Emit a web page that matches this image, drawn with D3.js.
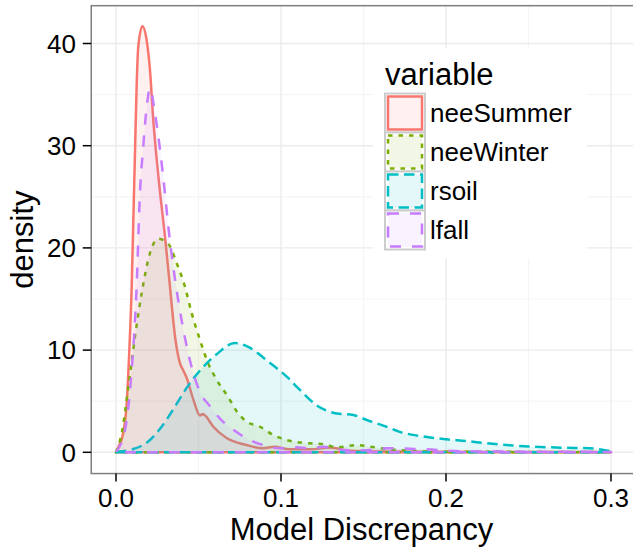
<!DOCTYPE html>
<html>
<head>
<meta charset="utf-8">
<script src="https://cdn.jsdelivr.net/npm/d3@7"></script>
<style>
  body { margin: 0; background: #fff; }
  svg { display: block; font-family: "Liberation Sans", Arial, sans-serif; }
</style>
</head>
<body>
<svg width="633" height="550"></svg>
<script>
// density curves
const variables = ["neeSummer", "neeWinter", "rsoil", "lfall"];

const neeSummerX = [0, 0.0014, 0.0044, 0.0065, 0.008, 0.0095, 0.0105, 0.0115, 0.0125, 0.0135, 0.016, 0.0186, 0.0206, 0.0226, 0.0247, 0.0267, 0.0297, 0.0327, 0.0358, 0.0388, 0.0408, 0.0428, 0.0468, 0.0509, 0.0525, 0.054, 0.059, 0.067, 0.079, 0.089, 0.096, 0.105, 0.118, 0.13, 0.142, 0.16, 0.2, 0.25, 0.3];
const neeSummerY = [0, 0.5, 1.9, 4.8, 9.7, 16.2, 22.7, 29.3, 35.8, 39.7, 41.7, 40.3, 37.4, 32.5, 28.6, 25.4, 21.1, 16.2, 11.3, 8.7, 8.0, 7.3, 5.2, 3.6, 3.75, 3.6, 2.5, 1.4, 0.72, 0.4, 0.55, 0.3, 0.3, 0.47, 0.15, 0.08, 0.05, 0.03, 0.02];

const neeWinterX = [0, 0.0035, 0.0075, 0.0115, 0.0156, 0.0206, 0.0256, 0.0317, 0.0368, 0.0418, 0.0459, 0.0509, 0.0559, 0.061, 0.068, 0.0732, 0.0792, 0.0873, 0.0953, 0.1035, 0.1176, 0.1256, 0.1338, 0.1459, 0.154, 0.166, 0.184, 0.2, 0.25, 0.3];
const neeWinterY = [0, 1.9, 6.4, 11.3, 15.6, 19.5, 20.9, 20.4, 18.5, 16.2, 13.6, 11.0, 8.7, 7.1, 5.4, 4.0, 3.0, 2.5, 1.7, 1.2, 0.88, 0.81, 0.49, 0.71, 0.55, 0.29, 0.12, 0.06, 0.04, 0.02];

const rsoilX = [0, 0.0105, 0.0206, 0.0267, 0.0347, 0.0428, 0.0509, 0.061, 0.072, 0.081, 0.0913, 0.1035, 0.1115, 0.1216, 0.1338, 0.1438, 0.152, 0.164, 0.172, 0.184, 0.2004, 0.2125, 0.2247, 0.2368, 0.2529, 0.2711, 0.2873, 0.2994];
const rsoilY = [0.05, 0.32, 1.2, 2.3, 4.2, 6.3, 8.0, 9.6, 10.7, 10.25, 9.0, 7.4, 6.1, 4.6, 3.8, 3.65, 3.16, 2.5, 2.0, 1.6, 1.27, 1.1, 0.88, 0.71, 0.55, 0.45, 0.39, 0.13];

const lfallX = [0, 0.0055, 0.0095, 0.0125, 0.0145, 0.0165, 0.0186, 0.0206, 0.0236, 0.0267, 0.0297, 0.0317, 0.0358, 0.0398, 0.0448, 0.0509, 0.057, 0.063, 0.0711, 0.0812, 0.0893, 0.0994, 0.1095, 0.1176, 0.1256, 0.1376, 0.15, 0.164, 0.188, 0.21, 0.25, 0.3];
const lfallY = [0.05, 2.2, 8.05, 16.2, 25.3, 29.9, 33.8, 35.6, 33.2, 29.6, 25.3, 22.1, 16.9, 12.9, 9.0, 5.9, 4.5, 3.3, 2.2, 1.2, 0.71, 0.39, 0.49, 0.39, 0.55, 0.22, 0.2, 0.39, 0.29, 0.1, 0.06, 0.04];

const xTicks = [0, 0.1, 0.2, 0.3];
const yTicks = [0, 10, 20, 30, 40];
const xMinor = [0.05, 0.15, 0.25];
const yMinor = [5, 15, 25, 35];

const colors = ["#F8766D", "#7CAE00", "#00BFC4", "#C77CFF"];
const dashes = [null, "4.5,6", "10.5,5.5", "11,11"];

const series = [
    { name: "neeSummer", xs: neeSummerX, ys: neeSummerY },
    { name: "neeWinter", xs: neeWinterX, ys: neeWinterY },
    { name: "rsoil", xs: rsoilX, ys: rsoilY },
    { name: "lfall", xs: lfallX, ys: lfallY },
];

const x = d3.scaleLinear().domain([0, 0.3]).range([116, 611]);
const y = d3.scaleLinear().domain([0, 40]).range([452.3, 43.5]);

const pLeft = x(-0.015), pRight = x(0.315);
const pTop = y(43.7), pBottom = y(-2.08);

const svg = d3.select("svg");

// panel
const grid = svg.append("g");
grid.selectAll(".vminor").data(xMinor).join("line")
    .attr("x1", d => x(d)).attr("x2", d => x(d))
    .attr("y1", pTop).attr("y2", pBottom)
    .attr("stroke", "#f5f5f5").attr("stroke-width", 1.2);
grid.selectAll(".hminor").data(yMinor).join("line")
    .attr("x1", pLeft).attr("x2", pRight)
    .attr("y1", d => y(d)).attr("y2", d => y(d))
    .attr("stroke", "#f5f5f5").attr("stroke-width", 1.2);
grid.selectAll(".vmajor").data(xTicks).join("line")
    .attr("x1", d => x(d)).attr("x2", d => x(d))
    .attr("y1", pTop).attr("y2", pBottom)
    .attr("stroke", "#ebebeb").attr("stroke-width", 1.4);
grid.selectAll(".hmajor").data(yTicks).join("line")
    .attr("x1", pLeft).attr("x2", pRight)
    .attr("y1", d => y(d)).attr("y2", d => y(d))
    .attr("stroke", "#ebebeb").attr("stroke-width", 1.4);

// density polygons, drawn in order with outline closed along the baseline
const area = d3.area()
    .x(d => x(d[0]))
    .y0(y(0))
    .y1(d => y(d[1]))
    .curve(d3.curveMonotoneX);

series.forEach((s, i) => {
    const pts = s.xs.map((v, j) => [v, s.ys[j]]);
    svg.append("path")
        .attr("d", area(pts))
        .attr("fill", colors[i])
        .attr("fill-opacity", 0.1)
        .attr("stroke", colors[i])
        .attr("stroke-width", 2.5)
        .attr("stroke-dasharray", dashes[i])
        .attr("stroke-linejoin", "round");
});

// border
svg.append("rect")
    .attr("x", pLeft).attr("y", pTop)
    .attr("width", pRight - pLeft).attr("height", pBottom - pTop)
    .attr("fill", "none").attr("stroke", "#7f7f7f").attr("stroke-width", 1.5);

// axes
svg.append("g").selectAll("line").data(yTicks).join("line")
    .attr("x1", pLeft - 8.5).attr("x2", pLeft)
    .attr("y1", d => y(d)).attr("y2", d => y(d))
    .attr("stroke", "#000").attr("stroke-width", 1.5);
svg.append("g").selectAll("text").data(yTicks).join("text")
    .attr("x", 76).attr("y", d => y(d)).attr("dy", "0.36em")
    .attr("text-anchor", "end").attr("font-size", 26)
    .text(d => d);

svg.append("g").selectAll("line").data(xTicks).join("line")
    .attr("x1", d => x(d)).attr("x2", d => x(d))
    .attr("y1", pBottom).attr("y2", pBottom + 8)
    .attr("stroke", "#000").attr("stroke-width", 1.5);
svg.append("g").selectAll("text").data(xTicks).join("text")
    .attr("x", d => x(d)).attr("y", 507)
    .attr("text-anchor", "middle").attr("font-size", 26)
    .text(d => d3.format(".1f")(d));

svg.append("text")
    .attr("x", (pLeft + pRight) / 2 - 2).attr("y", 540)
    .attr("text-anchor", "middle").attr("font-size", 31)
    .text("Model Discrepancy");
svg.append("text")
    .attr("transform", `translate(33,${(pTop + pBottom) / 2}) rotate(-90)`)
    .attr("text-anchor", "middle").attr("font-size", 31)
    .text("density");

// legend
const lg = svg.append("g");
lg.append("rect").attr("x", 373).attr("y", 48).attr("width", 214).attr("height", 210).attr("fill", "#fff");
lg.append("text").attr("x", 385).attr("y", 85).attr("font-size", 31).text("variable");
const keyTop = 93.5, keyH = 39, keyX = 385, keyW = 40;
variables.forEach((v, i) => {
    const ky = keyTop + i * keyH;
    lg.append("rect")
        .attr("x", keyX).attr("y", ky).attr("width", keyW).attr("height", keyH)
        .attr("fill", "#fff").attr("stroke", "#cccccc").attr("stroke-width", 2);
    lg.append("rect")
        .attr("x", keyX + 3).attr("y", ky + 3).attr("width", keyW - 6).attr("height", keyH - 6)
        .attr("fill", colors[i]).attr("fill-opacity", 0.1)
        .attr("stroke", colors[i]).attr("stroke-width", 2.5)
        .attr("stroke-dasharray", dashes[i]);
    lg.append("text")
        .attr("x", 430).attr("y", ky + keyH / 2 + 9)
        .attr("font-size", 26).text(v);
});
</script>
</body>
</html>
